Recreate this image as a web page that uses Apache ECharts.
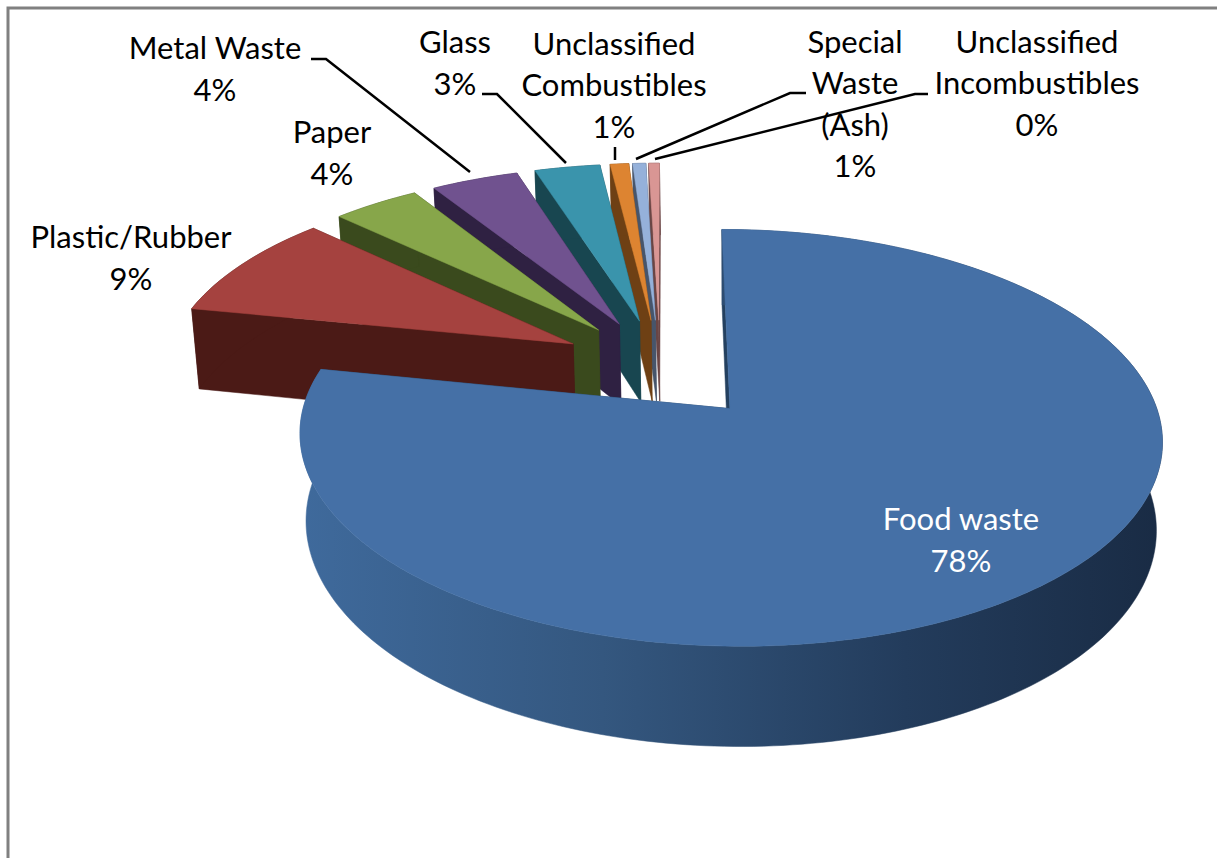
<!DOCTYPE html>
<html><head><meta charset="utf-8">
<style>html,body{margin:0;padding:0;background:#fff}#c{width:1217px;height:858px}#c text{font-variant-ligatures:none}</style>
<script src="https://cdn.jsdelivr.net/npm/echarts@6/dist/echarts.min.js"></script>
</head><body><div id="c"></div>
<script>
const categories = ['Food waste','Plastic/Rubber','Paper','Metal Waste','Glass','Unclassified\nCombustibles','Special\nWaste\n(Ash)','Unclassified\nIncombustibles'];
const values = [78.16, 8.9, 4.0, 4.0, 3.0, 0.85, 0.6, 0.49];
const topColors = ['#4570A6','#A5423F','#87A64A','#70528F','#3A94AC','#DD8431','#95B1DA','#D99694'];
const wallColors = ['#24405F','#4B1A16','#3A4A1D','#2F2142','#184650','#6E4014','#47556B','#6A4544'];
const drawOrder = [7,6,5,4,3,2,1,0];
const labelAnchors = [[961,539,'#fff'],[131,257],[332,152],[215,68],[455,62],[614,84],[855,103],[1037,82]];
const leaders = [[[311,59],[326,59],[470,172]],[[482,94],[497,94],[566,163]],[[615,147],[615,160]],[[806,93],[790,93],[636,159]],[[928,94],[915,94],[655,159]]];

// Perspective view of the tilted pie
const view = {cx:665, cy:371.6, R:416, A:194, k:0.137, H:84, shrink:0.986, pivot:731, explode:0.24, backShift:[-0.012,0.035], backRadius:0.985};
const total = values.reduce((a,b)=>a+b,0);
function project(U,V,z){
  const w = 1+view.k*V;
  let x = view.cx+view.R*U/w, y = view.cy-view.A*V/w;
  if(z){ x = view.pivot+(x-view.pivot)*view.shrink; y += view.H/w; }
  return [x,y];
}
function sliceGeom(i){
  let start=0; for(let j=0;j<i;j++) start+=values[j];
  const a0=start/total*2*Math.PI, a1=(start+values[i])/total*2*Math.PI, mid=(a0+a1)/2;
  const ox=view.explode*Math.sin(mid)+(i?view.backShift[0]:0), oy=view.explode*Math.cos(mid)+(i?view.backShift[1]:0);
  const r=i?view.backRadius:1;
  const rim=[]; const n=Math.max(3,Math.ceil((a1-a0)/0.02));
  for(let t=0;t<=n;t++){const a=a0+(a1-a0)*t/n; rim.push([ox+r*Math.sin(a),oy+r*Math.cos(a)]);}
  return {apex:[ox,oy],rim};
}
function renderSlice(params,api){
  const i=api.value(0), g=sliceGeom(i);
  const P=(p,z)=>project(p[0],p[1],z);
  const top=[P(g.apex,0),...g.rim.map(p=>P(p,0))];
  const first=g.rim[0], last=g.rim[g.rim.length-1];
  const wall=[...g.rim.map(p=>P(p,0)),...g.rim.slice().reverse().map(p=>P(p,1))];
  const face=(p)=>[P(g.apex,0),P(p,0),P(p,1),P(g.apex,1)];
  const wallFill = i===0 ? new echarts.graphic.LinearGradient(300,0,1165,0,[
      {offset:0,color:'#3F6A9C'},{offset:0.35,color:'#34577F'},{offset:0.7,color:'#233C5C'},{offset:1,color:'#192B44'}],true) : wallColors[i];
  const poly=(pts,fill)=>({type:'polygon',shape:{points:pts},style:{fill,stroke:fill,lineWidth:0.5}});
  return {type:'group',children:[
    poly(face(last),wallColors[i]),
    poly(face(first),wallColors[i]),
    poly(wall,wallFill),
    poly(top,topColors[i])
  ]};
}
const fontFamily='Lato, Carlito, "Open Sans", sans-serif';
const labelGraphics=categories.map((c,i)=>({
  type:'text',x:labelAnchors[i][0],y:labelAnchors[i][1],z:10,
  style:{text:c+'\n'+Math.round(values[i]/total*100)+'%',fill:labelAnchors[i][2]||'#000',
    font:'31px '+fontFamily,lineHeight:41.5,align:'center',verticalAlign:'middle'}
}));
const leaderGraphics=leaders.map(pts=>({type:'polyline',z:9,shape:{points:pts},style:{stroke:'#000',lineWidth:2.5,fill:null}}));
const chart=echarts.init(document.getElementById('c'),null,{renderer:'svg'});
chart.setOption({
  animation:false,backgroundColor:'#fff',
  series:[{type:'custom',coordinateSystem:'none',renderItem:renderSlice,silent:true,
    data:drawOrder.map(i=>({name:categories[i],value:[i,values[i]]}))}],
  graphic:[
    {type:'polyline',z:1,shape:{points:[[8,858],[8,8],[1217,8]]},style:{stroke:'#808080',lineWidth:3,fill:null}},
    ...leaderGraphics,...labelGraphics
  ]
});
</script></body></html>
